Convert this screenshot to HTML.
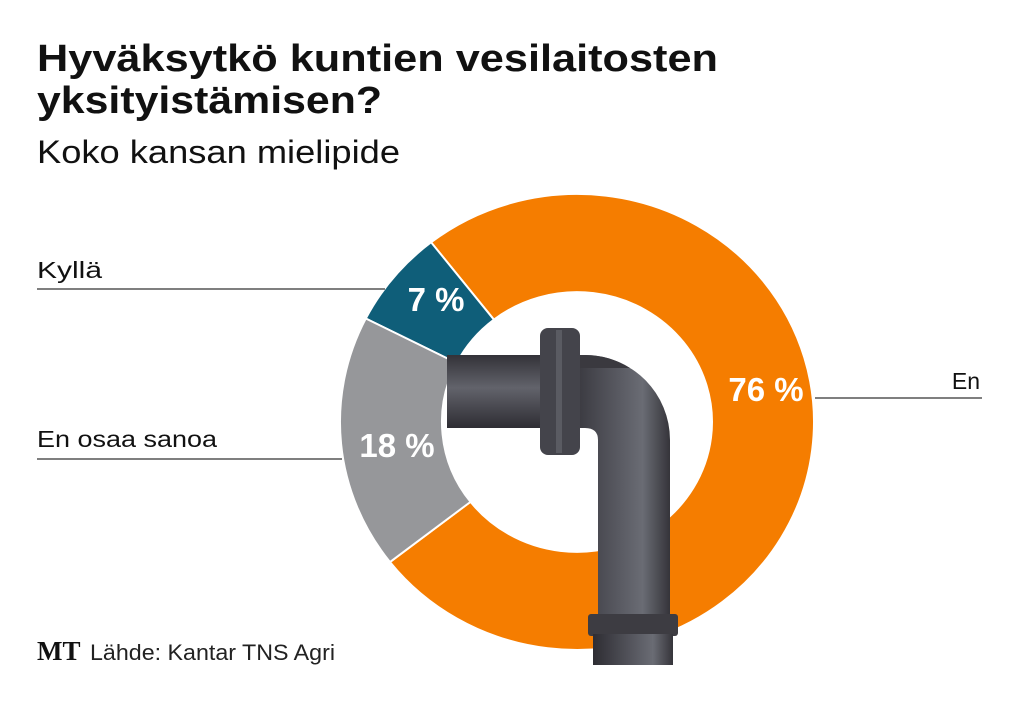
<!DOCTYPE html>
<html><head><meta charset="utf-8"><style>
body{margin:0;width:1019px;height:702px;background:#fff;overflow:hidden;font-family:"Liberation Sans",sans-serif;}
</style></head><body>
<svg width="1019" height="702" viewBox="0 0 1019 702" xmlns="http://www.w3.org/2000/svg">
<defs>
<linearGradient id="gv" x1="0" x2="1" y1="0" y2="0">
<stop offset="0" stop-color="#2e2d33"/><stop offset="0.55" stop-color="#5a5b63"/><stop offset="0.75" stop-color="#6a6c74"/><stop offset="1" stop-color="#35343a"/></linearGradient>
<linearGradient id="gh" x1="0" x2="0" y1="0" y2="1">
<stop offset="0" stop-color="#333238"/><stop offset="0.45" stop-color="#62636b"/><stop offset="1" stop-color="#2e2d33"/></linearGradient>
</defs>
<text x="37" y="71" font-size="38" font-weight="bold" fill="#111" textLength="681" lengthAdjust="spacingAndGlyphs">Hyväksytkö kuntien vesilaitosten</text>
<text x="37" y="113" font-size="38" font-weight="bold" fill="#111" textLength="345" lengthAdjust="spacingAndGlyphs">yksityistämisen?</text>
<text x="37" y="163" font-size="32" fill="#111" textLength="363" lengthAdjust="spacingAndGlyphs">Koko kansan mielipide</text>
<g transform="translate(577,422) scale(1,0.962)" stroke="#fff" stroke-width="2">
<path fill="#f57d00" d="M -145.9 -186.8 A 237 237 0 1 1 -187.0 145.6 L -106.5 83 A 135 135 0 1 0 -83.1 -106.4 Z"/>
<path fill="#0f5e79" d="M -211.2 -107.6 A 237 237 0 0 1 -145.9 -186.8 L -83.1 -106.4 A 135 135 0 0 0 -120.3 -61.3 Z"/>
<path fill="#96979a" d="M -187.0 145.6 A 237 237 0 0 1 -211.2 -107.6 L -120.3 -61.3 A 135 135 0 0 0 -106.5 83 Z"/>
</g>
<text x="436" y="311" font-size="33" font-weight="bold" fill="#fff" text-anchor="middle">7 %</text>
<text x="397" y="457" font-size="33" font-weight="bold" fill="#fff" text-anchor="middle">18 %</text>
<text x="766" y="401" font-size="33" font-weight="bold" fill="#fff" text-anchor="middle">76 %</text>
<rect x="447" y="355" width="95" height="73" fill="url(#gh)"/>
<path d="M560 355 L585 355 A85 85 0 0 1 670 440 L670 620 L598 620 L598 440 Q598 428 585 428 L560 428 Z" fill="url(#gv)"/>
<path d="M560 355 L585 355 A85 85 0 0 1 630 368 L560 368 Z" fill="#3a393f"/>
<rect x="540" y="328" width="40" height="127" rx="8" fill="#44444b"/>
<rect x="556" y="330" width="6" height="123" fill="#5a5b62"/>
<rect x="588" y="614" width="90" height="22" rx="3" fill="#3d3c42"/>
<rect x="593" y="634" width="80" height="31" fill="url(#gv)"/>
<text x="37" y="278" font-size="23" fill="#111" textLength="65" lengthAdjust="spacingAndGlyphs">Kyllä</text>
<line x1="37" y1="289" x2="385" y2="289" stroke="#333" stroke-width="1.2"/>
<text x="37" y="447" font-size="23" fill="#111" textLength="180" lengthAdjust="spacingAndGlyphs">En osaa sanoa</text>
<line x1="37" y1="459" x2="342" y2="459" stroke="#333" stroke-width="1.2"/>
<text x="980" y="389" font-size="23" fill="#111" text-anchor="end">En</text>
<line x1="815" y1="398" x2="982" y2="398" stroke="#333" stroke-width="1.2"/>
<text x="37" y="660" font-size="27" font-weight="bold" font-family="Liberation Serif,serif" fill="#111">MT</text>
<text x="90" y="660" font-size="22" fill="#222" textLength="245" lengthAdjust="spacingAndGlyphs">Lähde: Kantar TNS Agri</text>
</svg>
</body></html>
